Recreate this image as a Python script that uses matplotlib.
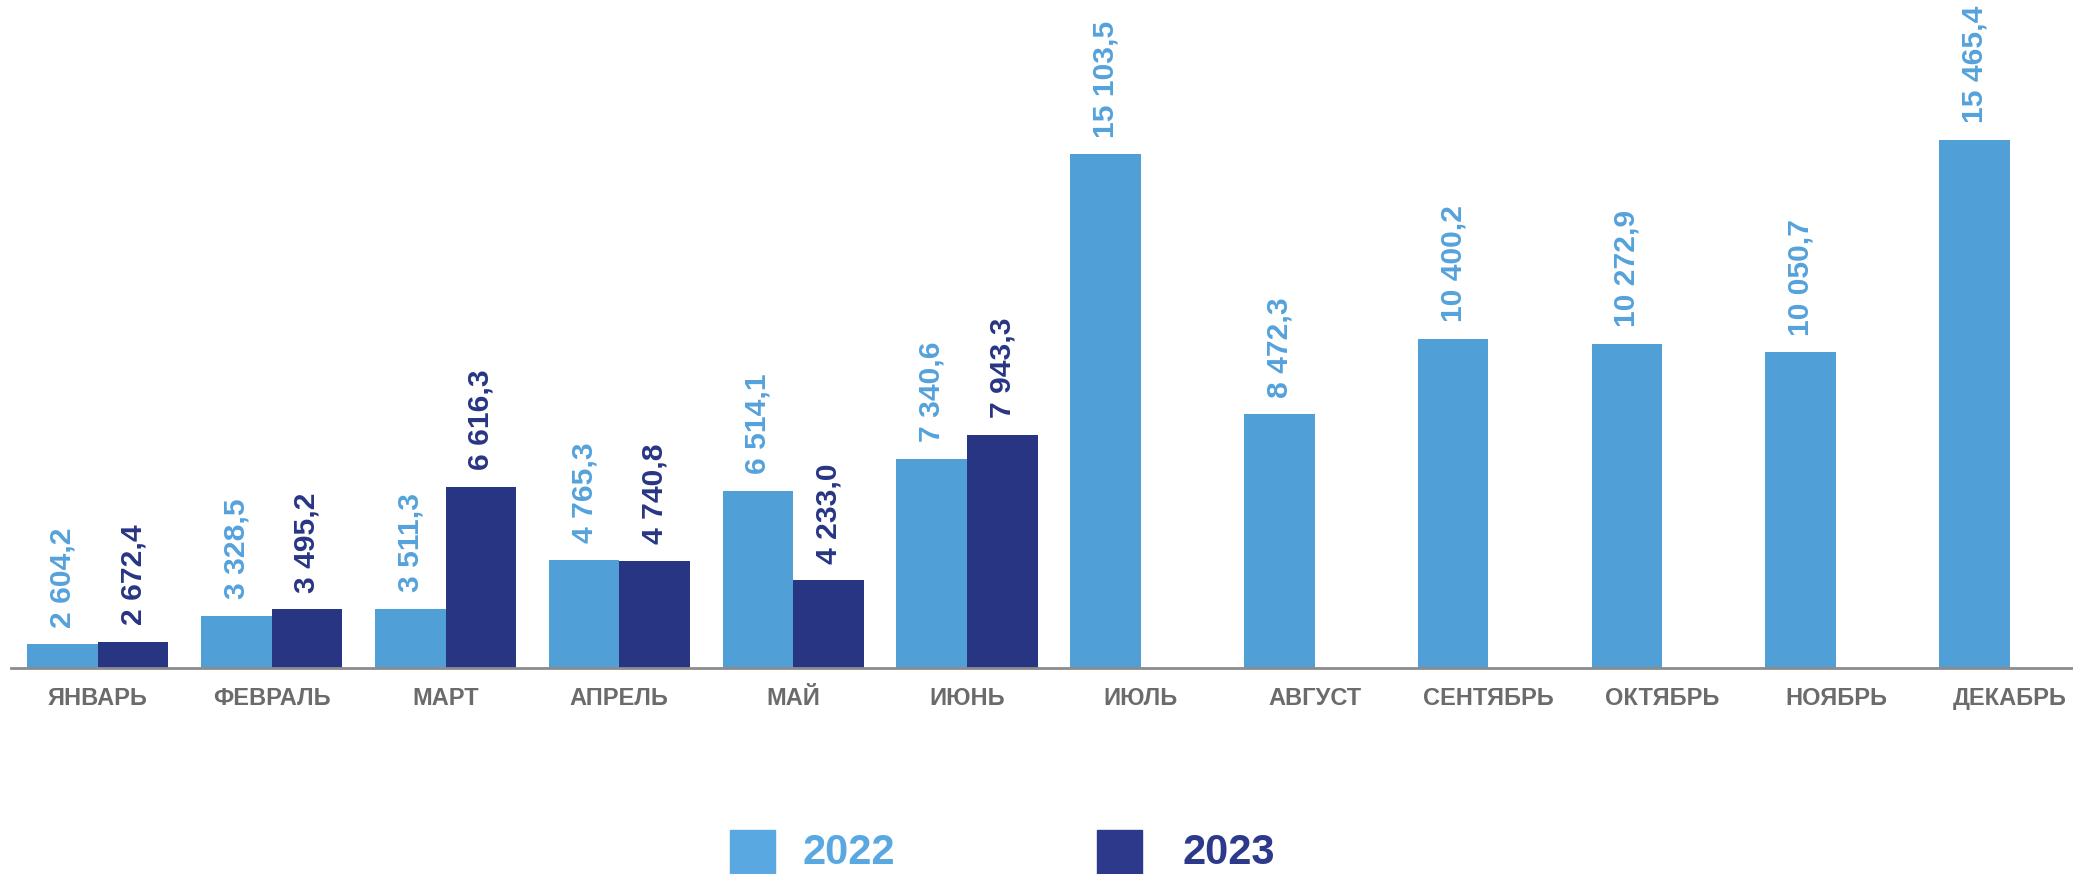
import matplotlib
matplotlib.use("Agg")
import matplotlib.pyplot as plt
import numpy as np
from matplotlib.patches import Rectangle

months = ["ЯНВАРЬ", "ФЕВРАЛЬ", "МАРТ", "АПРЕЛЬ", "МАЙ", "ИЮНЬ", "ИЮЛЬ",
          "АВГУСТ", "СЕНТЯБРЬ", "ОКТЯБРЬ", "НОЯБРЬ", "ДЕКАБРЬ"]
values_2022 = [2604.2, 3328.5, 3511.3, 4765.3, 6514.1, 7340.6, 15103.5,
               8472.3, 10400.2, 10272.9, 10050.7, 15465.4]
values_2023 = [2672.4, 3495.2, 6616.3, 4740.8, 4233.0, 7943.3]
series_names = ["2022", "2023"]

C_LIGHT = "#519FD7"
C_DARK = "#283583"
C_LIGHT_TXT = "#55A2DC"
C_GRAY = "#6B6B6B"
FONT = ["Liberation Sans", "DejaVu Sans"]

W, H = 2073, 874
fig = plt.figure(figsize=(W / 100, H / 100), dpi=100)
ax = fig.add_axes([11 / W, (H - 668) / H, 1 - 11 / W, 668 / H])

pitch = 173.8
x_right = (W - 98) / pitch
ax.set_xlim(-0.5, x_right)
ax.set_ylim(2000, 2000 + 668 / (528 / (15465.4 - 2000)))

bw = 0.406
x22 = np.arange(len(values_2022))
x23 = np.arange(len(values_2023))
b1 = ax.bar(x22 - bw / 2, values_2022, width=bw, color=C_LIGHT, zorder=2)
b2 = ax.bar(x23 + bw / 2, values_2023, width=bw, color=C_DARK, zorder=2)


def fmt(v):
    s = f"{v:,.1f}".replace(",", " ").replace(".", ",")
    return s


for bars, vals, col in [(b1, values_2022, C_LIGHT_TXT), (b2, values_2023, C_DARK)]:
    for rect, v in zip(bars, vals):
        ax.annotate(fmt(v), (rect.get_x() + rect.get_width() / 2, v),
                    xytext=(0, 12), textcoords="offset points",
                    rotation=90, ha="center", va="bottom",
                    fontsize=21.6, fontweight="bold", color=col,
                    family=FONT, annotation_clip=False)

for s in ["top", "right", "left"]:
    ax.spines[s].set_visible(False)
ax.spines["bottom"].set_color("#8C8C8C")
ax.spines["bottom"].set_linewidth(2)
ax.set_yticks([])
ax.set_xticks(x22)
ax.set_xticklabels(months, fontsize=17, fontweight="bold", color=C_GRAY, family=FONT)
ax.tick_params(axis="x", length=0, pad=14)

# legend
fig.patches.append(Rectangle((730 / W, 0), 45 / W, 44 / H, transform=fig.transFigure,
                             color="#5AA8E1", figure=fig))
fig.text(802 / W, 0.5 / H, series_names[0], fontsize=30, fontweight="bold",
         color="#5AA8E1", family=FONT, ha="left", va="bottom")
fig.patches.append(Rectangle((1097 / W, 0), 45 / W, 44 / H, transform=fig.transFigure,
                             color="#2D3A8B", figure=fig))
fig.text(1182 / W, 0.5 / H, series_names[1], fontsize=30, fontweight="bold",
         color="#2D3A8B", family=FONT, ha="left", va="bottom")

fig.savefig("out.png", dpi=100)
